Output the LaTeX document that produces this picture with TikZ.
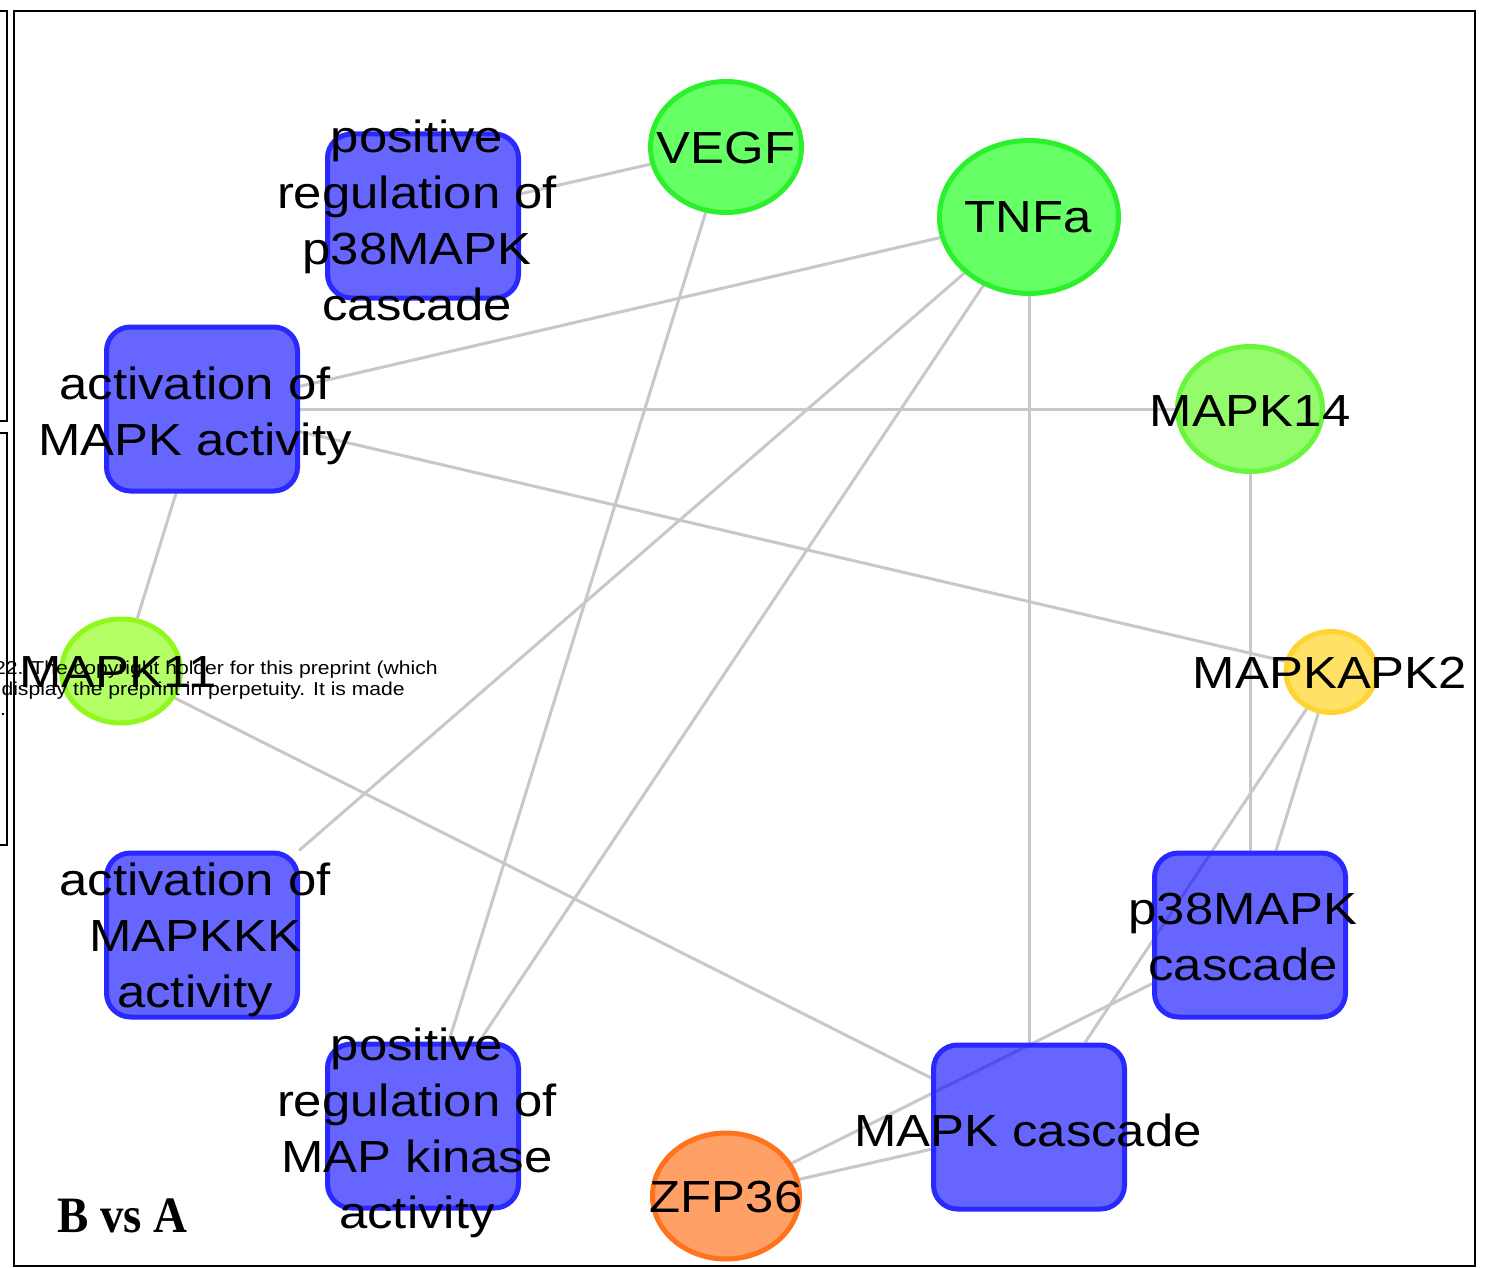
\documentclass[tikz,border=0pt]{standalone}
\usepackage{fontspec}
\setmainfont{Liberation Sans}[FakeStretch=1.13]
\newfontfamily\panelserif{Liberation Serif}[FakeStretch=0.92]
\usetikzlibrary{shapes.geometric,backgrounds}

% node colours (fill bases are laid down at 60% opacity)
\definecolor{edgegray}{RGB}{200,200,200}
\definecolor{termfill}{RGB}{0,0,255}
\definecolor{termrim}{RGB}{40,40,255}
\definecolor{greenfill}{RGB}{0,255,0}
\definecolor{greenrim}{RGB}{45,240,45}
\definecolor{limefill}{RGB}{77,250,10}
\definecolor{limerim}{RGB}{105,245,60}
\definecolor{chartfill}{RGB}{130,255,0}
\definecolor{chartrim}{RGB}{145,248,30}
\definecolor{goldfill}{RGB}{255,205,0}
\definecolor{goldrim}{RGB}{255,212,50}
\definecolor{orangefill}{RGB}{255,97,0}
\definecolor{orangerim}{RGB}{255,115,30}

\tikzset{
  term/.style={rectangle, rounded corners=24pt, line width=5pt, draw=termrim,
    fill=termfill, fill opacity=0.6, inner sep=0pt,
    minimum width=191pt, minimum height=164pt},
  gene/.style={ellipse, line width=5pt, inner sep=0pt},
  lbl/.style={align=center, inner sep=0pt, font=\fontsize{45}{56}\selectfont},
  note/.style={inner sep=0pt, font=\fontsize{18.7}{20}\selectfont},
  link/.style={draw=edgegray, line width=3pt},
  frame/.style={draw=black, line width=2pt}
}

\begin{document}
\begin{tikzpicture}[x=1pt,y=-1pt]
  \clip (0,0) rectangle (1489,1268);

  % GO term boxes
  \node[term] (posp38)  at (423,216)  {};
  \node[term] (actmapk) at (202,409)  {};
  \node[term] (actmkkk) at (202,935)  {};
  \node[term] (posmapk) at (423,1126) {};
  \node[term] (cascade) at (1029,1127) {};
  \node[term] (p38)     at (1250,935) {};

  % gene ellipses
  \node[gene, draw=greenrim, fill=greenfill, fill opacity=0.6,
        minimum width=151pt, minimum height=131pt] (vegf) at (726,147) {};
  \node[gene, draw=greenrim, fill=greenfill, fill opacity=0.6,
        minimum width=179pt, minimum height=153pt] (tnfa) at (1029,217) {};
  \node[gene, draw=limerim, fill=limefill, fill opacity=0.6,
        minimum width=145pt, minimum height=125pt] (mapk14) at (1250,409) {};
  \node[gene, draw=chartrim, fill=chartfill, fill opacity=0.6,
        minimum width=119pt, minimum height=104pt] (mapk11) at (121,671) {};
  \node[gene, draw=goldrim, fill=goldfill, fill opacity=0.6,
        minimum width=90pt, minimum height=81pt] (mapkapk2) at (1331,672) {};
  \node[gene, draw=orangerim, fill=orangefill, fill opacity=0.6,
        minimum width=147pt, minimum height=126pt] (zfp36) at (726,1196) {};

  % interaction edges, kept under the nodes
  \begin{pgfonlayer}{background}
    \fill[white] (0,0) rectangle (1489,1268);
    \draw[link] (vegf) -- (posp38);
    \draw[link] (vegf) -- (posmapk);
    \draw[link] (tnfa) -- (actmapk);
    \draw[link] (tnfa) -- (actmkkk);
    \draw[link] (tnfa) -- (posmapk);
    \draw[link] (tnfa) -- (cascade);
    \draw[link] (mapk14) -- (actmapk);
    \draw[link] (mapk14) -- (p38);
    \draw[link] (actmapk) -- (mapkapk2);
    \draw[link] (actmapk) -- (mapk11);
    \draw[link] (mapk11) -- (cascade);
    \draw[link] (mapkapk2) -- (p38);
    \draw[link] (mapkapk2) -- (cascade);
    \draw[link] (zfp36) -- (p38);
    \draw[link] (zfp36) -- (cascade);
  \end{pgfonlayer}

  % labels
  \node[lbl] (posp38t)  at (417,220)  {positive\\regulation of\\p38MAPK\\cascade};
  \node[lbl] (actmapkt) at (195,416)  {activation of\\MAPK activity};
  \node[lbl] (actmkkkt) at (195,940)  {activation of\\MAPKKK\\activity};
  \node[lbl] (posmapkt) at (417,1133) {positive\\regulation of\\MAP kinase\\activity};
  \node[lbl] (cascadet) at (1028,1130) {MAPK cascade};
  \node[lbl] (p38t)     at (1243,937) {p38MAPK\\cascade};
  \node[lbl] (vegft)    at (726,148)  {VEGF};
  \node[lbl] (tnfat)    at (1028,217) {TNFa};
  \node[lbl] (mapk14t)  at (1250,411) {MAPK14};
  \node[lbl] (mapk11t)  at (118,672)  {MAPK11};
  \node[lbl] (mapkapk2t) at (1330,673) {MAPKAPK2};
  \node[lbl] (zfp36t)   at (726,1197) {ZFP36};

  % panel tag
  \node[inner sep=0pt, anchor=base west,
        font=\panelserif\bfseries\fontsize{51}{56}\selectfont] (tag) at (57,1232) {B vs A};

  % frames
  \draw[frame] (14,11) rectangle (1475,1266);
  \draw[frame] (-10,11) rectangle (7,421);
  \draw[frame] (-10,433) rectangle (7,845);

  % text running in from the neighbouring page
  \node[note, anchor=base east] (cr1) at (438,674) {22. The copyright holder for this preprint (which};
  \node[note, anchor=base east] (cr2) at (405,695) {display the preprint in perpetuity. It is made};
  \node[note, anchor=base west] (cr3) at (0,715) {.};
\end{tikzpicture}
\end{document}
